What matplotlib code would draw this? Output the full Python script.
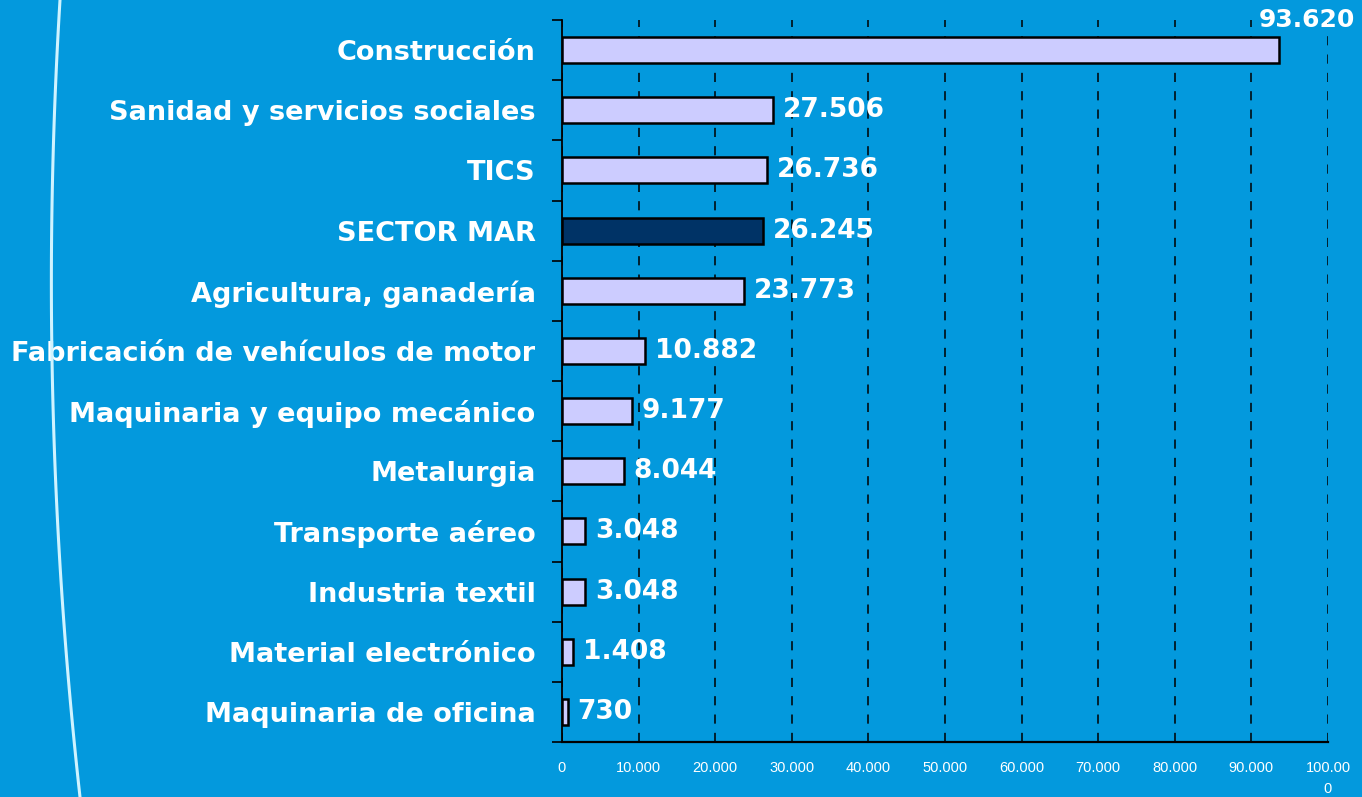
import numpy as np
import matplotlib.pyplot as plt
from matplotlib.lines import Line2D

# sectors, top to bottom
sectors = [
    "Construcción",
    "Sanidad y servicios sociales",
    "TICS",
    "SECTOR MAR",
    "Agricultura, ganadería",
    "Fabricación de vehículos de motor",
    "Maquinaria y equipo mecánico",
    "Metalurgia",
    "Transporte aéreo",
    "Industria textil",
    "Material electrónico",
    "Maquinaria de oficina",
]
values = [93620, 27506, 26736, 26245, 23773, 10882, 9177, 8044, 3048, 3048, 1408, 730]
highlight = "SECTOR MAR"
xticks = list(range(0, 100001, 10000))

BG = "#0399DD"
BAR = "#CCCCFF"
BAR_HI = "#003366"


def fmt(v):
    return f"{v:,}".replace(",", ".")


fig = plt.figure(figsize=(13.62, 7.97), dpi=100, facecolor=BG)
ax = fig.add_axes([562 / 1362, 1 - 742 / 797, (1328 - 562) / 1362, (742 - 20) / 797])
ax.set_facecolor(BG)

y = np.arange(len(sectors))
colors = [BAR_HI if s == highlight else BAR for s in sectors]
ax.barh(y, values, height=0.43, color=colors, edgecolor="black", linewidth=1.8, zorder=3)

ax.set_ylim(len(sectors) - 0.5, -0.5)
ax.set_xlim(0, 100000)

# category labels
ax.set_yticks(y)
ax.set_yticklabels(sectors, fontsize=19.5, fontweight="bold", color="white",
                   family="DejaVu Sans")
ax.tick_params(axis="y", which="major", length=0, pad=19)
ax.set_yticks(np.arange(-0.5, len(sectors), 1), minor=True)
ax.tick_params(axis="y", which="minor", length=7, width=1.2, color="black", direction="out")

# x axis
ax.set_xticks(xticks)
ax.set_xticklabels([fmt(t) if t < 100000 else "100.00\n0" for t in xticks],
                   fontsize=10.5, color="white", family="Liberation Sans",
                   va="top", linespacing=1.6)
ax.tick_params(axis="x", length=0, pad=14)
ax.grid(axis="x", color="black", linestyle=(0, (6, 6)), linewidth=1.1, zorder=1)

for side in ["top", "right"]:
    ax.spines[side].set_visible(False)
ax.spines["left"].set_color("black")
ax.spines["bottom"].set_color("black")
ax.spines["left"].set_linewidth(1.3)
ax.spines["bottom"].set_linewidth(1.6)

# value labels
for yi, v in zip(y, values):
    if v == max(values):
        ax.annotate(fmt(v), (v, yi), xytext=(20, 22), textcoords="offset points",
                    ha="center", va="center", fontsize=18, fontweight="bold",
                    color="white", family="DejaVu Sans")
    else:
        ax.annotate(fmt(v), (v, yi), xytext=(7, 0), textcoords="offset points",
                    ha="left", va="center", fontsize=19, fontweight="bold",
                    color="white", family="DejaVu Sans")

# decorative curved line at left edge
t = np.linspace(0, 1, 60)
cx = 60 - 48.7 * t + 68.7 * t ** 2
cy = 797 * t
fig.add_artist(Line2D(cx / 1362, 1 - cy / 797, color="#CFF3FF", linewidth=2.2,
                      transform=fig.transFigure))

fig.savefig("out.png", dpi=100, facecolor=BG)
